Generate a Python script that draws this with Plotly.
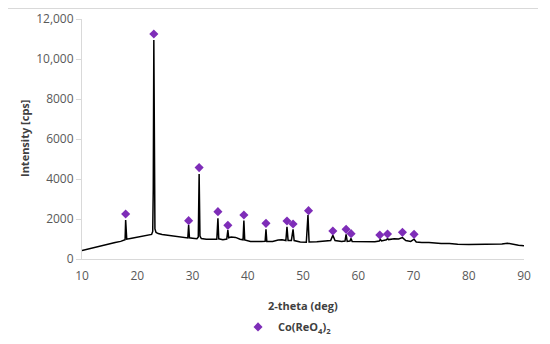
import plotly.graph_objects as go

# XRD pattern
two_theta = [10.0, 11.0, 12.0, 13.0, 14.0, 15.0, 16.0, 17.0, 17.7, 17.8, 17.9, 18.0, 18.1,
             19.0, 20.0, 21.0, 22.0, 22.6, 22.8, 22.9, 23.0, 23.1, 23.2, 23.4, 23.8,
             24.5, 25.5, 26.5, 27.5, 28.5, 29.15, 29.3, 29.45, 30.0, 30.8, 31.05, 31.2,
             31.35, 31.6, 32.5, 33.5, 34.4, 34.6, 34.75, 35.5, 36.2, 36.4, 36.55, 37.0,
             37.8, 38.6, 39.15, 39.3, 39.45, 40.5, 41.5, 42.5, 43.15, 43.3, 43.45, 44.5,
             45.5, 46.2, 46.9, 47.1, 47.3, 47.9, 48.2, 48.4, 49.5, 50.6, 50.9, 51.1,
             52.5, 54.0, 55.0, 55.4, 55.8, 57.0, 57.6, 57.8, 58.0, 58.5, 58.7, 58.9,
             60.0, 61.5, 63.0, 63.8, 64.0, 64.2, 65.1, 65.3, 65.5, 66.5, 67.3, 68.0,
             68.6, 69.5, 70.1, 70.5, 71.5, 72.8, 74.0, 75.0, 76.5, 78.0, 80.0, 82.0,
             84.0, 86.0, 87.0, 87.5, 89.0, 90.0]
intensity = [430, 500, 560, 620, 690, 750, 820, 880, 940, 960, 1950, 1000, 990,
             1040, 1090, 1130, 1170, 1230, 1380, 3500, 10950, 3200, 1500, 1330, 1270,
             1230, 1190, 1140, 1100, 1060, 1050, 1700, 1060, 1040, 1010, 1100, 4250,
             1150, 1020, 990, 980, 990, 2030, 1010, 960, 1000, 1450, 1060, 1100,
             1080, 990, 960, 1920, 950, 880, 860, 870, 880, 1480, 880, 880,
             950, 960, 920, 1610, 930, 930, 1480, 920, 850, 840, 2200, 850,
             860, 880, 920, 1180, 920, 880, 900, 1230, 880, 900, 1030, 870,
             860, 850, 860, 900, 980, 900, 960, 1020, 970, 1010, 1000, 1070,
             920, 880, 990, 850, 820, 830, 790, 770, 780, 740, 730, 740,
             720, 750, 790, 760, 690, 660]

# Co(ReO4)2 reflection markers
marker_theta = [17.9, 23.0, 29.3, 31.2, 34.6, 36.4, 39.3, 43.3, 47.1, 48.2, 51.0,
                55.4, 57.8, 58.7, 63.9, 65.3, 68.0, 70.1]
marker_int = [2250, 11250, 1917, 4570, 2367, 1683, 2200, 1783, 1900, 1750, 2417,
              1400, 1483, 1267, 1200, 1250, 1333, 1233]

y_tickvals = [0, 2000, 4000, 6000, 8000, 10000, 12000]
y_ticktext = ["0", "2000", "4000", "6000", "8000", "10,000", "12,000"]
x_tickvals = [10, 20, 30, 40, 50, 60, 70, 80, 90]

FONT = "Open Sans, Liberation Sans, sans-serif"
TXT = "#404040"

fig = go.Figure()
fig.add_trace(go.Scatter(x=two_theta, y=intensity, mode="lines",
                         line=dict(color="black", width=1.5), showlegend=False,
                         hoverinfo="skip"))
fig.add_trace(go.Scatter(x=marker_theta, y=marker_int, mode="markers",
                         marker=dict(symbol="diamond", size=7, color="#7E2DB8"),
                         name="<b>Co(ReO<sub>4</sub>)<sub>2</sub></b>"))

fig.update_layout(
    width=542, height=336,
    margin=dict(l=74, r=26, t=11, b=85, autoexpand=False),
    paper_bgcolor="white", plot_bgcolor="white",
    font=dict(family=FONT, size=12, color=TXT),
    xaxis=dict(range=[10, 90], tickvals=x_tickvals, showgrid=False, zeroline=False,
               showline=True, linecolor="#d9d9d9", linewidth=1, ticks="",
               automargin=False,
               ticklabelstandoff=6, tickfont=dict(size=12, color="#595959")),
    yaxis=dict(range=[0, 12000], tickvals=y_tickvals, ticktext=y_ticktext,
               showgrid=False, zeroline=False, showline=True, linecolor="#d9d9d9",
               linewidth=1, ticks="outside", ticklen=5, tickcolor="#d9d9d9",
               automargin=False,
               tickfont=dict(size=12, color="#595959")),
    showlegend=True,
    legend=dict(orientation="h", x=0.353, xanchor="left", y=-0.283, yanchor="middle",
                font=dict(size=11, color=TXT), itemwidth=30, bgcolor="rgba(0,0,0,0)"),
    annotations=[
        dict(text="<b>2-theta (deg)</b>", xref="paper", yref="paper", x=0.5,
             y=-0.192, xanchor="center", yanchor="middle", showarrow=False,
             font=dict(size=11, color=TXT)),
        dict(text="<b>Intensity [cps]</b>", xref="paper", yref="paper",
             x=(24 - 82) / 442, y=0.5, xanchor="center", yanchor="middle",
             textangle=-90, showarrow=False, font=dict(size=11, color=TXT)),
    ],
    shapes=[dict(type="line", xref="paper", yref="paper", x0=(8 - 82) / 442,
                 x1=(538 - 82) / 442, y0=(251 - 0.5) / 240, y1=(251 - 0.5) / 240,
                 line=dict(color="#d9d9d9", width=1))],
)

fig.write_html("out.html")
